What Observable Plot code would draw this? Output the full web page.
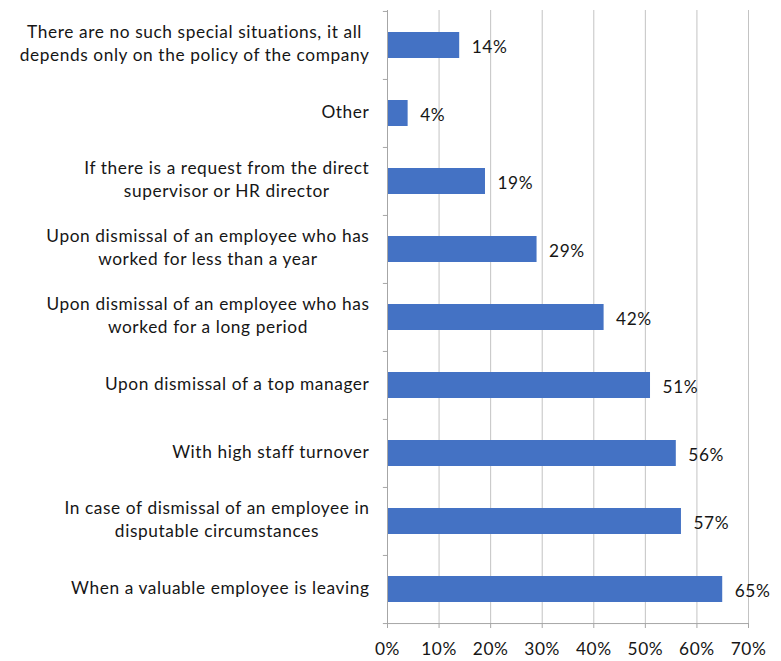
<!DOCTYPE html>
<html>
<head>
<meta charset="utf-8">
<script src="https://cdn.jsdelivr.net/npm/d3@7"></script>
<script src="https://cdn.jsdelivr.net/npm/@observablehq/plot@0.6"></script>
<style>
  body { margin: 0; background: #fff; }
  #chart svg { display: block; }
</style>
</head>
<body>
<div id="chart"></div>
<script>
// Situations in which companies provide outplacement, top to bottom
const situations = [
  "There are no such special situations, it all\ndepends only on the policy of the company",
  "Other",
  "If there is a request from the direct\nsupervisor or HR director",
  "Upon dismissal of an employee who has\nworked for less than a year",
  "Upon dismissal of an employee who has\nworked for a long period",
  "Upon dismissal of a top manager",
  "With high staff turnover",
  "In case of dismissal of an employee in\ndisputable circumstances",
  "When a valuable employee is leaving"
];
// Share of respondents, %
const shares = [14, 4, 19, 29, 42, 51, 56, 57, 65];
// Horizontal axis ticks, %
const xTicks = [0, 10, 20, 30, 40, 50, 60, 70];

const rows = situations.map((situation, i) => ({situation, share: shares[i]}));

const width = 781, height = 661;
const marginLeft = 387, marginRight = 33, marginTop = 10, marginBottom = 38;
const step = (height - marginTop - marginBottom) / situations.length;

const axisGray = "#a6a6a6";
const gridGray = "#c3c3c3";
const ink = "#161616";
const fontSize = 17.3;

const plot = Plot.plot({
  width, height, marginLeft, marginRight, marginTop, marginBottom,
  style: {fontFamily: "Lato, 'Open Sans', sans-serif", fontSize: `${fontSize}px`, letterSpacing: "0.6px", color: ink, background: "#fff"},
  x: {domain: [0, 70], label: null},
  y: {domain: situations, paddingInner: 0.62, paddingOuter: 0.31, label: null},
  marks: [
    Plot.gridX(xTicks.slice(1), {stroke: gridGray, strokeOpacity: 1}),
    Plot.barX(rows, {y: "situation", x: "share", fill: "#4472c4"}),
    Plot.text(rows, {y: "situation", x: "share", text: d => `${d.share}%`, textAnchor: "start", dx: 12, dy: 1.5, fontSize, fill: ink}),
    // left axis line with ticks between categories
    Plot.ruleX([0], {stroke: axisGray}),
    Plot.ruleY(situations, {y: d => d, x1: -0.8, x2: 0, dy: -step / 2, stroke: axisGray, clip: false}),
    // bottom axis line
    Plot.ruleY(situations.slice(-1), {y: d => d, x1: -0.8, x2: 70, dy: step / 2, stroke: axisGray, clip: false}),
    Plot.axisX(xTicks, {tickFormat: d => `${d}%`, tickSize: 5, tickPadding: 14, stroke: axisGray, fill: ink, fontSize, label: null}),
    Plot.axisY({tickSize: 0, tickPadding: 18, dy: -3, lineHeight: 1.3, fontSize, fill: ink, label: null})
  ]
});

document.getElementById("chart").appendChild(plot);

// Centre each multi-line category label within its own block, block right-aligned to the axis
d3.select(plot).selectAll('g[aria-label="y-axis tick label"] text').each(function() {
  const w = this.getBBox().width;
  this.setAttribute("text-anchor", "middle");
  const spans = this.querySelectorAll("tspan");
  if (spans.length) spans.forEach(t => t.setAttribute("x", -w / 2));
  else this.setAttribute("x", -w / 2);
});
</script>
</body>
</html>
